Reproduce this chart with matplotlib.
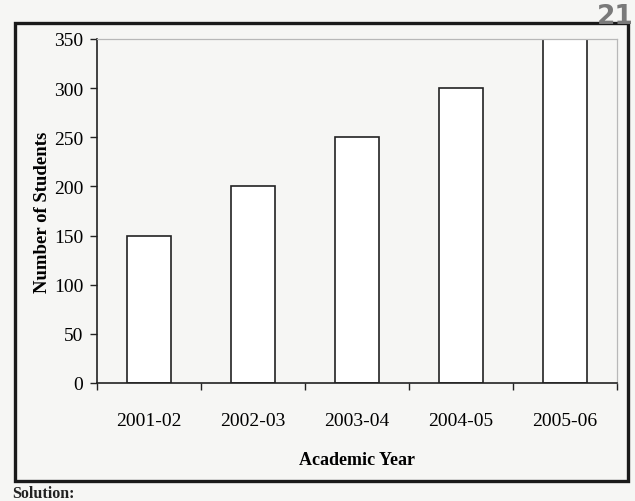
import matplotlib
matplotlib.use("Agg")
import matplotlib.pyplot as plt
from matplotlib.patches import Rectangle

# Data
years = ["2001-02", "2002-03", "2003-04", "2004-05", "2005-06"]
students = [150, 200, 250, 300, 350]
y_ticks = [0, 50, 100, 150, 200, 250, 300, 350]

W, H = 635, 502
fig = plt.figure(figsize=(W / 100, H / 100), dpi=100)
paper = "#f6f6f4"
fig.patch.set_facecolor(paper)

serif = ["Liberation Serif", "DejaVu Serif"]

def fx(px):
    return px / W

def fy(py):
    return 1 - py / H

# Plot area
left_px, right_px, top_px, bottom_px = 97, 617, 40, 384
ax = fig.add_axes([fx(left_px), fy(bottom_px),
                   fx(right_px) - fx(left_px), fy(top_px) - fy(bottom_px)])
ax.set_facecolor(paper)

x = list(range(len(years)))
ax.bar(x, students, width=0.42, color="white", edgecolor="#222222", linewidth=1.2)

ax.set_xlim(-0.5, len(years) - 0.5)
ax.set_ylim(0, 350)
ax.set_yticks(y_ticks)
ax.set_yticklabels([str(t) for t in y_ticks], fontfamily=serif, fontsize=14)

# Category labels sit between boundary ticks
ax.set_xticks(x)
ax.set_xticklabels(years, fontfamily=serif, fontsize=14)
ax.tick_params(axis="x", length=0, pad=21)
ax.set_xticks([i - 0.5 for i in range(len(years) + 1)], minor=True)
ax.tick_params(axis="x", which="minor", direction="out", length=5, width=1, color="#222222")
ax.tick_params(axis="y", direction="out", length=5, width=1, color="#222222", pad=5)

for s in ("left", "bottom"):
    ax.spines[s].set_color("#222222")
    ax.spines[s].set_linewidth(1.2)
for s in ("top", "right"):
    ax.spines[s].set_color("#b8b8b8")
    ax.spines[s].set_linewidth(0.9)

ax.set_ylabel("Number of Students", fontfamily=serif, fontweight="bold",
              fontsize=13.5, labelpad=2)
ax.set_xlabel("Academic Year", fontfamily=serif, fontweight="bold",
              fontsize=13, labelpad=16)

# Page frame around the figure
fig.patches.append(Rectangle((fx(15), fy(482)), fx(628) - fx(15), fy(24) - fy(482),
                             transform=fig.transFigure, fill=False,
                             edgecolor="#1a1a1a", linewidth=2.4))

# Page number and the start of the next section
fig.text(fx(597), fy(17), "21", fontsize=19, fontweight="bold", color="#7a7a7a",
         family=["DejaVu Sans"], va="center", ha="left")
fig.text(fx(12), fy(494), "Solution:", fontsize=11.5, fontweight="bold",
         family=serif, va="center", ha="left", color="#222222")

fig.savefig("out.png", dpi=100, facecolor=fig.get_facecolor())
